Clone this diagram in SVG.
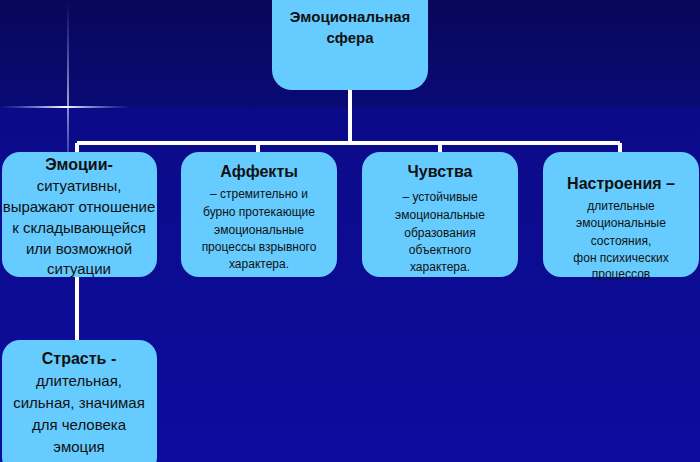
<svg xmlns="http://www.w3.org/2000/svg" width="700" height="462" viewBox="0 0 700 462">
<defs>
<linearGradient id="bg" x1="0" y1="0" x2="0" y2="1"><stop offset="0" stop-color="#07075a"/><stop offset="0.25" stop-color="#0a0a78"/><stop offset="1" stop-color="#0c0c9a"/></linearGradient>
<linearGradient id="hl" x1="0" y1="0" x2="1" y2="0"><stop offset="0" stop-color="#8fa8ff" stop-opacity="0"/><stop offset="0.5" stop-color="#ffffff"/><stop offset="1" stop-color="#8fa8ff" stop-opacity="0"/></linearGradient>
<linearGradient id="vl" x1="0" y1="0" x2="0" y2="1"><stop offset="0" stop-color="#8fa8ff" stop-opacity="0"/><stop offset="0.5" stop-color="#ffffff"/><stop offset="1" stop-color="#8fa8ff" stop-opacity="0"/></linearGradient>
</defs>
<style>
.box{fill:#66ccff;}
text{font-family:"Liberation Sans",Arial,sans-serif;fill:#111;text-anchor:middle;}
.h{font-weight:bold;font-size:16px;}
.t{font-size:15px;}
.s{font-size:12px;}
.c{stroke:#fff;stroke-width:4;fill:none;}
</style>
<rect width="700" height="462" fill="url(#bg)"/>
<rect x="0" y="107" width="700" height="355" fill="#0d0da8" opacity="0.35"/>
<rect x="0" y="106" width="130" height="2" fill="url(#hl)"/>
<rect x="67" y="0" width="2" height="200" fill="url(#vl)" opacity="0.6"/>
<g id="connectors">
<path class="c" d="M350 90V143M77 143H620M77 143V152M258 143V152M440 143V152M620 143V152M77 277V340"/>
</g>
<g id="n0"><rect class="box" x="272" y="-20" width="156" height="110" rx="20"/>
<text class="h" x="350" y="22" style="font-size:15px">Эмоциональная</text><text class="h" x="350" y="43" style="font-size:15px">сфера</text></g>
<g id="n1"><rect class="box" x="2" y="152" width="155" height="125" rx="18"/>
<text class="h" x="79" y="170">Эмоции-</text><text class="t" x="79" y="191">ситуативны,</text><text class="t" x="79" y="212">выражают отношение</text><text class="t" x="79" y="233">к складывающейся</text><text class="t" x="79" y="254">или возможной</text><text class="t" x="79" y="274">ситуации</text></g>
<g id="n2"><rect class="box" x="181" y="152" width="156" height="125" rx="18"/>
<text class="h" x="259" y="177">Аффекты</text><text class="s" x="259" y="198">–   стремительно и</text><text class="s" x="259" y="216">бурно протекающие</text><text class="s" x="259" y="234">эмоциональные</text><text class="s" x="259" y="251">процессы взрывного</text><text class="s" x="259" y="268">характера.</text></g>
<g id="n3"><rect class="box" x="362" y="152" width="156" height="125" rx="18"/>
<text class="h" x="440" y="177">Чувства</text><text class="s" x="440" y="201">– устойчивые</text><text class="s" x="440" y="219">эмоциональные</text><text class="s" x="440" y="237">образования</text><text class="s" x="440" y="254">объектного</text><text class="s" x="440" y="271">характера.</text></g>
<g id="n4"><rect class="box" x="543" y="152" width="156" height="125" rx="18"/>
<text class="h" x="621" y="189">Настроения –</text><text class="s" x="621" y="210">длительные</text><text class="s" x="621" y="227">эмоциональные</text><text class="s" x="621" y="245">состояния,</text><text class="s" x="621" y="262">фон психических</text><text class="s" x="621" y="278">процессов</text></g>
<g id="n5"><rect class="box" x="2" y="340" width="155" height="135" rx="18"/>
<text class="h" x="79" y="364">Страсть -</text><text class="t" x="79" y="386">длительная,</text><text class="t" x="79" y="408">сильная, значимая</text><text class="t" x="79" y="430">для человека</text><text class="t" x="79" y="452">эмоция</text></g>
</svg>
